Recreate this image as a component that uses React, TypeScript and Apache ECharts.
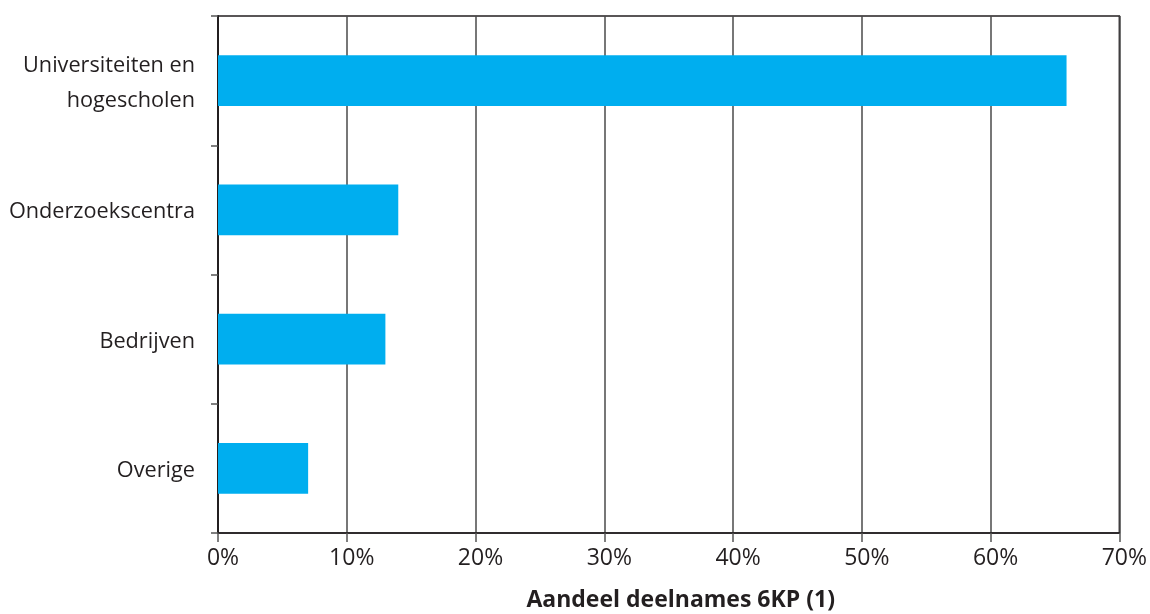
import React, { useEffect, useRef } from "react";
import * as echarts from "echarts";

const categories = ["Universiteiten en\nhogescholen", "Onderzoekscentra", "Bedrijven", "Overige"];
const values = [65.9, 14.0, 13.0, 7.0];
const axisTitle = "Aandeel deelnames 6KP (1)";

export default function App() {
  const ref = useRef<HTMLDivElement>(null);
  useEffect(() => {
    if (!ref.current) return;
    const chart = echarts.init(ref.current, null, { renderer: "svg" });
    const font = "Open Sans";
    const textColor = "#231f20";
    chart.setOption({
      animation: false,
      grid: {
        left: 218,
        top: 16,
        right: 28,
        bottom: 80,
        show: true,
        borderColor: "#231f20",
        borderWidth: 1.5,
        containLabel: false,
      },
      xAxis: {
        type: "value",
        min: 0,
        max: 70,
        interval: 10,
        name: axisTitle,
        nameLocation: "middle",
        nameGap: 53,
        nameTextStyle: { fontFamily: font, fontSize: 23, fontWeight: "bold", color: textColor, padding: [0, 0, 0, 24] },
        axisLine: { show: true, lineStyle: { color: "#231f20", width: 1.5 } },
        axisTick: { show: true, length: 9, lineStyle: { color: "#555", width: 1.5 } },
        axisLabel: {
          formatter: "{value}%",
          fontFamily: font,
          fontSize: 23,
          color: textColor,
          margin: 11,
          padding: [0, 0, 0, 10],
        },
        splitLine: { show: true, lineStyle: { color: "#4a4a4a", width: 1.5 } },
      },
      yAxis: {
        type: "category",
        data: categories,
        inverse: true,
        axisLine: { show: true, lineStyle: { color: "#231f20", width: 2 } },
        axisTick: { show: true, length: 7, lineStyle: { color: "#555", width: 1.5 } },
        axisLabel: {
          fontFamily: font,
          fontSize: 21.7,
          color: textColor,
          margin: 23,
          lineHeight: 35,
          align: "right",
        },
        splitLine: { show: false },
      },
      series: [
        {
          type: "bar",
          data: values,
          barWidth: "39.4%",
          itemStyle: { color: "#00aeef" },
        },
      ],
    });
    return () => chart.dispose();
  }, []);
  return <div ref={ref} style={{ position: "fixed", left: 0, top: 0, width: 1150, height: 614 }} />;
}
